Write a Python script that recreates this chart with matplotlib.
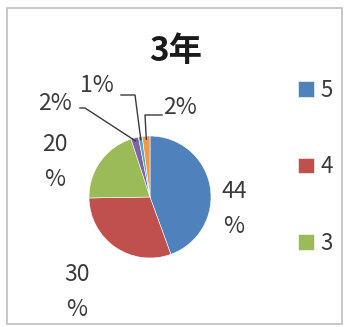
import numpy as np
import matplotlib.pyplot as plt
from matplotlib.patches import Rectangle

plt.rcParams['font.family'] = ['Noto Sans CJK JP', 'DejaVu Sans']

# data (clockwise from 12 o'clock)
categories = ['5', '4', '3', '2', '1', '無回答']
shares = [44, 30, 20, 2, 1, 2]
labels = ['44\n%', '30\n%', '20\n%', '2%', '1%', '2%']
colors = ['#4F81BD', '#C0504D', '#9BBB59', '#8064A2', '#4BACC6', '#F79646']
legend_shown = 3

W, H = 345, 327
fig = plt.figure(figsize=(W / 100, H / 100), dpi=100)
ax = fig.add_axes([0, 0, 1, 1])

# chart frame
ax.add_patch(Rectangle((7, 3), 335, 316, fill=False, edgecolor='#BFBFBF', lw=1.2))

cx, cy, r = 150, H - 197, 61
wedges, _ = ax.pie(shares, colors=colors, startangle=90, counterclock=False,
                   center=(cx, cy), radius=r, frame=True,
                   wedgeprops=dict(edgecolor='white', linewidth=0.4))
ax.set_xlim(0, W)
ax.set_ylim(0, H)
ax.set_aspect('equal')
ax.axis('off')

txt = dict(color='#3a3a3a', fontsize=16.5, ha='center', va='center',
           linespacing=1.7)
# large-slice labels
ax.text(234, H - 209, labels[0], **txt)
ax.text(77, H - 292, labels[1], **txt)
ax.text(55, H - 162, labels[2], **txt)

# small-slice labels with leader lines
def edge_pt(w, frac=0.95):
    a = np.deg2rad((w.theta1 + w.theta2) / 2)
    return cx + frac * r * np.cos(a), cy + frac * r * np.sin(a)

ax.text(55, H - 103, labels[3], **txt)
px, py = edge_pt(wedges[3])
ax.plot([80, 85, px], [H - 108, H - 108, py], color='#3a3a3a', lw=1)

ax.text(97, H - 86, labels[4], **txt)
px, py = edge_pt(wedges[4])
ax.plot([121, 135, px], [H - 95, H - 95, py], color='#3a3a3a', lw=1)

ax.text(180, H - 107, labels[5], **txt)
px, py = edge_pt(wedges[5])
ax.plot([162, 145, px], [H - 115, H - 115, py], color='#3a3a3a', lw=1)

ax.text(176, H - 52, '3年', fontsize=24, fontweight='bold', color='#1a1a1a',
        ha='center', va='center')

ax.legend(wedges[:legend_shown], categories[:legend_shown], loc='upper left',
          bbox_to_anchor=(278 / W, 1 - 59 / H), frameon=False, fontsize=16,
          handlelength=0.72, handleheight=0.72, handletextpad=0.3,
          labelspacing=2.4, labelcolor='#3a3a3a')

fig.savefig('out.png', dpi=100, facecolor='white')
